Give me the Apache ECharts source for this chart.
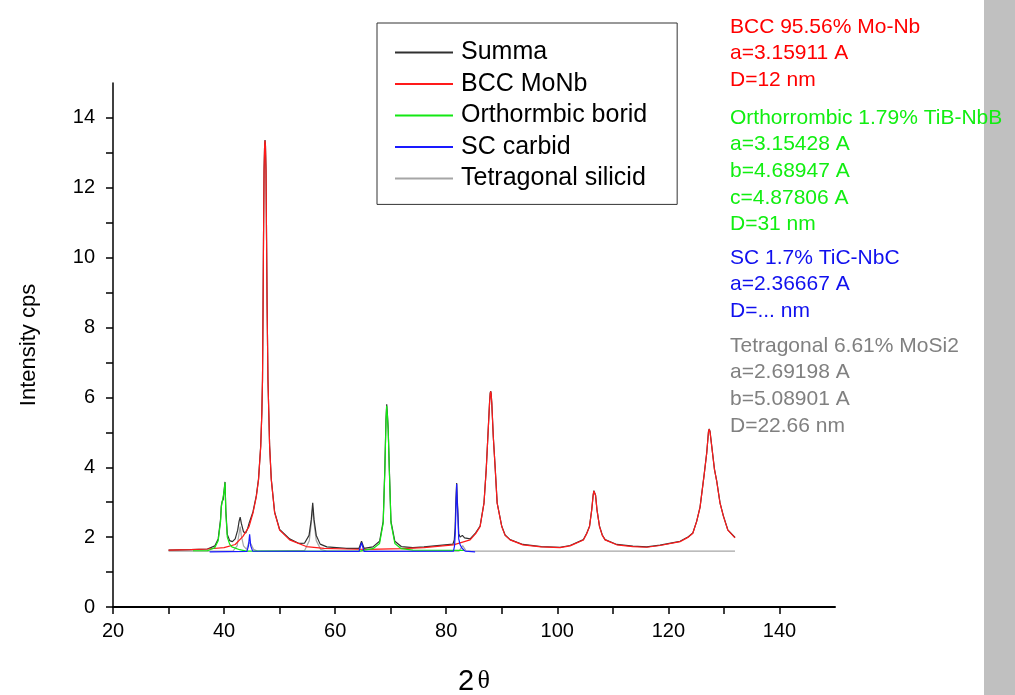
<!DOCTYPE html>
<html>
<head>
<meta charset="utf-8">
<script src="https://cdn.jsdelivr.net/npm/echarts@6/dist/echarts.min.js"></script>
<style>
  html, body { margin: 0; padding: 0; background: #fff; }
  #chart { width: 1015px; height: 695px; }
</style>
</head>
<body>
<div id="chart"></div>
<script>
// XRD pattern: Intensity (cps) vs 2θ, fitted phase components and their sum

const seriesNames = ['Summa', 'BCC MoNb', 'Orthormbic borid', 'SC carbid', 'Tetragonal silicid'];

// [2θ, intensity] pairs
const summa = [
  [30,1.63],[34,1.64],[37,1.66],[38.35,1.75],[38.94,1.95],[39.37,2.52],[39.5,2.9],[39.65,3.02],
  [39.85,3.08],[40.0,3.33],[40.17,3.58],[40.32,2.75],[40.58,2.08],[41.0,1.9],[41.5,1.87],[42.0,1.95],
  [42.45,2.2],[42.7,2.45],[42.9,2.57],[43.1,2.4],[43.5,2.15],[43.9,2.12],[44.25,2.25],[44.55,2.42],
  [44.8,2.45],[45.2,2.72],[45.8,3.18],[46.2,3.66],[46.6,4.62],[46.8,5.57],[46.92,6.52],[47.02,8.62],
  [47.1,10.52],[47.2,12.52],[47.3,13.22],[47.37,13.37],[47.45,13.22],[47.55,12.52],[47.65,10.52],
  [47.75,8.62],[47.9,6.52],[48.05,5.57],[48.2,4.62],[48.5,3.66],[49.1,2.72],[50.0,2.22],[51.8,1.95],
  [53.5,1.82],[54.5,1.83],[55.3,2.05],[55.7,2.5],[55.96,2.98],[56.2,2.5],[56.6,2.05],[57.3,1.8],
  [58.5,1.72],[62,1.68],[64.3,1.68],[64.75,1.88],[65.2,1.68],[66.8,1.72],[68.0,1.88],[68.65,2.45],
  [68.95,3.98],[69.15,5.35],[69.28,5.8],[69.4,5.55],[69.55,5.1],[69.75,3.98],[70.05,2.45],[70.75,1.88],
  [71.9,1.73],[74,1.7],[76,1.72],[81.2,1.8],[81.45,1.92],[81.6,2.25],[81.75,3.1],[81.88,3.55],
  [81.98,3.1],[82.08,2.8],[82.25,2.1],[82.5,2.0],[82.9,2.05],[83.3,1.98],[84.3,1.95],[85.3,2.12],
  [86.1,2.32],[86.8,2.98],[87.2,3.94],[87.5,4.89],[87.8,5.85],[87.92,6.12],[88.0,6.18],[88.08,6.12],
  [88.2,5.85],[88.47,4.89],[88.83,3.94],[89.17,2.98],[90.0,2.31],[90.6,2.06],[91.5,1.93],[93.8,1.79],
  [97.1,1.73],[100.5,1.71],[102.3,1.76],[104.7,1.93],[105.3,2.11],[105.8,2.31],[106.2,2.79],
  [106.45,3.2],[106.58,3.33],[106.66,3.36],[106.74,3.33],[106.89,3.2],[107.14,2.79],[107.6,2.31],
  [108.1,2.06],[108.6,1.93],[110.7,1.79],[113.6,1.74],[116.1,1.72],[118.5,1.77],[122.1,1.88],
  [123.6,2.01],[124.4,2.12],[125.1,2.46],[125.7,2.86],[126.4,3.74],[126.9,4.41],[127.22,5.02],
  [127.36,5.1],[127.5,5.02],[127.95,4.41],[128.3,3.94],[128.7,3.61],[129.3,2.98],[129.9,2.61],
  [130.7,2.21],[132.0,1.99]
];

const bccMoNb = [
  [30,1.63],[34,1.64],[37,1.66],[40,1.70],[42,1.79],[43.4,2.02],[44.5,2.3],[45.2,2.69],[45.8,3.15],
  [46.2,3.64],[46.6,4.6],[46.8,5.55],[46.92,6.5],[47.02,8.6],[47.1,10.5],[47.2,12.5],[47.3,13.2],
  [47.37,13.35],[47.45,13.2],[47.55,12.5],[47.65,10.5],[47.75,8.6],[47.9,6.5],[48.05,5.55],[48.2,4.6],
  [48.5,3.64],[49.1,2.7],[50.0,2.2],[51.8,1.92],[54.8,1.73],[58,1.68],[62,1.66],[66,1.65],[72,1.67],
  [76,1.7],[81.3,1.78],[84.3,1.92],[85.3,2.1],[86.1,2.3],[86.8,2.97],[87.2,3.93],[87.5,4.88],
  [87.8,5.84],[87.92,6.11],[88.0,6.17],[88.08,6.11],[88.2,5.84],[88.47,4.88],[88.83,3.93],[89.17,2.97],
  [90.0,2.3],[90.6,2.05],[91.5,1.92],[93.8,1.78],[97.1,1.72],[100.5,1.70],[102.3,1.75],[104.7,1.92],
  [105.3,2.1],[105.8,2.3],[106.2,2.78],[106.45,3.19],[106.58,3.32],[106.66,3.35],[106.74,3.32],
  [106.89,3.19],[107.14,2.78],[107.6,2.3],[108.1,2.05],[108.6,1.92],[110.7,1.78],[113.6,1.73],
  [116.1,1.71],[118.5,1.76],[122.1,1.87],[123.6,2.0],[124.4,2.11],[125.1,2.45],[125.7,2.85],[126.4,3.73],
  [126.9,4.4],[127.22,5.01],[127.36,5.09],[127.5,5.01],[127.95,4.4],[128.3,3.93],[128.7,3.6],
  [129.3,2.97],[129.9,2.6],[130.7,2.2],[132.0,1.98]
];

const orthoBorid = [
  [34.4,1.61],[37,1.61],[38.35,1.7],[38.94,1.9],[39.37,2.45],[39.5,2.85],[39.65,3.0],[39.85,3.05],
  [40.0,3.3],[40.17,3.56],[40.32,2.68],[40.58,2.0],[41.0,1.8],[41.4,1.72],[42.8,1.64],[44,1.6],
  [45.15,1.6],[64.3,1.59],[65,1.62],[66.8,1.67],[68.0,1.82],[68.65,2.4],[68.95,3.93],[69.15,5.3],
  [69.28,5.76],[69.4,5.5],[69.55,5.07],[69.75,3.93],[70.05,2.4],[70.75,1.82],[71.9,1.67],[74,1.63],
  [83.2,1.62]
];

const scCarbid = [
  [37.4,1.58],[44.1,1.59],[44.4,1.75],[44.6,2.08],[44.8,1.75],[45.15,1.6],[64.3,1.59],[64.75,1.84],
  [65.2,1.59],[81.3,1.6],[81.5,1.75],[81.62,2.1],[81.78,3.0],[81.88,3.52],[81.98,3.0],[82.08,2.68],
  [82.25,1.95],[82.5,1.78],[82.85,1.68],[83.4,1.6],[85.2,1.58]
];

const tetraSilicid = [
  [30,1.6],[41.6,1.6],[42.35,1.75],[42.65,2.05],[42.9,2.3],[43.1,2.05],[43.5,1.75],[44.05,1.65],
  [44.45,1.85],[44.6,1.9],[44.85,1.8],[45.3,1.65],[46,1.6],[54.5,1.62],[55.35,1.9],[55.7,2.4],
  [55.96,2.85],[56.2,2.4],[56.6,1.9],[57.4,1.65],[58.5,1.6],[82.3,1.6],[82.95,1.76],[83.6,1.6],[132,1.6]
];

// Axis ranges and ticks
const xRange = [20, 150];
const xStep = 10;
const yRange = [0, 15];
const yStep = 1;

// Phase parameters listed to the right of the plot
const bccInfo = ['BCC 95.56% Mo-Nb', 'a=3.15911 A', 'D=12 nm'];
const orthoInfo = ['Orthorrombic 1.79% TiB-NbB', 'a=3.15428 A', 'b=4.68947 A', 'c=4.87806 A', 'D=31 nm'];
const scInfo = ['SC 1.7% TiC-NbC', 'a=2.36667 A', 'D=... nm'];
const tetraInfo = ['Tetragonal 6.61% MoSi2', 'a=2.69198 A', 'b=5.08901 A', 'D=22.66 nm'];

const colors = {
  summa: '#303030',
  bcc: '#ff1a1a',
  ortho: '#13e813',
  sc: '#1a1aff',
  tetra: '#a6a6a6'
};

const infoBlocks = [
  { lines: bccInfo, color: '#ff0000', top: 27 },
  { lines: orthoInfo, color: '#11ee11', top: 118 },
  { lines: scInfo, color: '#1010ee', top: 258 },
  { lines: tetraInfo, color: '#808080', top: 346 }
];
const infoLineStep = 26.6;

const graphics = [
  { type: 'rect', left: 984, top: 0, z: 1, shape: { width: 31, height: 695 }, style: { fill: '#c0c0c0' } }
];
infoBlocks.forEach(block => {
  block.lines.forEach((t, i) => {
    graphics.push({
      type: 'text',
      x: 730,
      y: block.top + i * infoLineStep,
      z: 10,
      style: {
        text: t,
        fill: block.color,
        font: '21px "Liberation Sans", Arial, sans-serif',
        textVerticalAlign: 'middle',
        textAlign: 'left'
      }
    });
  });
});

function lineSeries(name, data, color, z) {
  return {
    name: name,
    type: 'line',
    data: data,
    symbol: 'none',
    z: z,
    color: color,
    lineStyle: { width: 1.2, color: color },
    emphasis: { disabled: true }
  };
}

const chart = echarts.init(document.getElementById('chart'), null, { renderer: 'canvas' });
chart.setOption({
  animation: false,
  backgroundColor: '#ffffff',
  grid: { left: 113, right: 180, top: 83, bottom: 88, containLabel: false, outerBoundsMode: 'none' },
  legend: {
    data: seriesNames,
    orient: 'vertical',
    left: 377,
    top: 23,
    padding: [16.4, 30, 13, 18],
    itemGap: 5.5,
    itemWidth: 58,
    itemHeight: 2,
    icon: 'rect',
    borderColor: '#333',
    borderWidth: 1,
    textStyle: {
      fontSize: 25, lineHeight: 26, color: '#000',
      fontFamily: '"Liberation Sans", Arial, sans-serif',
      padding: [0, 0, 0, 3]
    }
  },
  xAxis: {
    type: 'value',
    min: xRange[0],
    max: xRange[1],
    interval: xStep,
    name: '{a|2} {b|θ}',
    nameLocation: 'middle',
    nameGap: 60,
    nameTextStyle: {
      rich: {
        a: { fontSize: 29, fontFamily: '"Liberation Sans", Arial, sans-serif', color: '#000' },
        b: { fontSize: 26, fontFamily: '"Liberation Serif", serif', color: '#000' }
      }
    },
    axisLine: { lineStyle: { color: '#000', width: 2 } },
    axisTick: { length: 7, lineStyle: { color: '#000', width: 1.5 } },
    axisLabel: {
      margin: 14,
      fontSize: 20,
      color: '#000',
      fontFamily: '"Liberation Sans", Arial, sans-serif',
      showMaxLabel: false,
      formatter: v => (v % 20 === 0 ? String(v) : '')
    },
    splitLine: { show: false }
  },
  yAxis: {
    type: 'value',
    min: yRange[0],
    max: yRange[1],
    interval: yStep,
    name: 'Intensity cps',
    nameLocation: 'middle',
    nameGap: 73,
    nameTextStyle: { fontSize: 22, color: '#000', fontFamily: '"Liberation Sans", Arial, sans-serif' },
    axisLine: { show: true, lineStyle: { color: '#000', width: 1.5 } },
    axisTick: { show: true, length: 7, lineStyle: { color: '#000', width: 1.5 } },
    axisLabel: {
      margin: 18,
      fontSize: 20,
      color: '#000',
      fontFamily: '"Liberation Sans", Arial, sans-serif',
      showMaxLabel: false,
      formatter: v => (v % 2 === 0 ? String(v) : '')
    },
    splitLine: { show: false }
  },
  series: [
    lineSeries('Tetragonal silicid', tetraSilicid, colors.tetra, 2),
    lineSeries('Summa', summa, colors.summa, 3),
    lineSeries('BCC MoNb', bccMoNb, colors.bcc, 4),
    lineSeries('Orthormbic borid', orthoBorid, colors.ortho, 5),
    lineSeries('SC carbid', scCarbid, colors.sc, 6)
  ],
  graphic: graphics
});
</script>
</body>
</html>
